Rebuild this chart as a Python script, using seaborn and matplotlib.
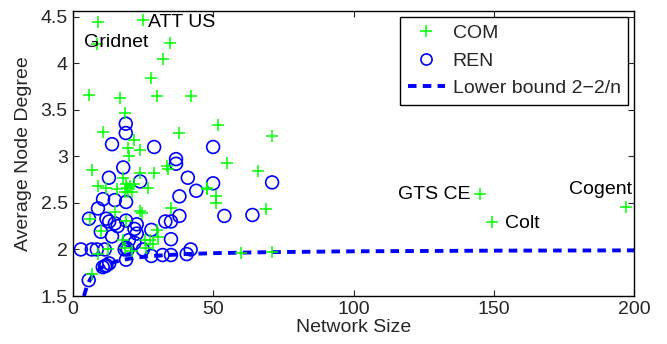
import numpy as np
import pandas as pd
import seaborn as sns
import matplotlib.pyplot as plt
from matplotlib.lines import Line2D
from matplotlib.ticker import FuncFormatter

# COM networks (network size, average node degree)
com_x = [8.9, 25, 8.6, 34.6, 32, 27.8, 5.7, 16.8, 29.9, 42, 18.5, 10.7, 22, 24, 37.8,
         51.7, 71, 55, 66, 47.8, 51, 51, 69, 60, 71, 145, 149.4, 197,
         19.6, 7, 18, 24, 29, 33.5, 34, 20, 9, 12, 15.6, 19, 19.5, 20.5, 19.8, 21, 18.5,
         26.7, 22, 48, 15, 24, 24.6, 35, 6, 19, 10, 30, 30.3, 18, 25.7, 27.5, 28.5,
         18.5, 12.5, 26, 21, 9, 7]
com_y = [4.44, 4.46, 4.21, 4.22, 4.04, 3.84, 3.66, 3.63, 3.65, 3.65, 3.46, 3.26, 3.18, 3.07, 3.25,
         3.34, 3.22, 2.93, 2.84, 2.65, 2.57, 2.50, 2.43, 1.96, 1.97, 2.59, 2.29, 2.46,
         3.09, 2.85, 2.77, 2.82, 2.82, 2.90, 2.86, 3.00, 2.68, 2.66, 2.65, 2.70, 2.66, 2.68, 2.62, 2.62, 2.62,
         2.66, 2.70, 2.66, 2.40, 2.41, 2.39, 2.45, 2.33, 2.31, 2.20, 2.21, 2.13, 2.10, 2.10, 2.10, 2.06,
         2.02, 2.01, 2.02, 1.98, 1.95, 1.74]

# REN networks
ren_x = [14, 29, 50, 36.8, 36.8, 18, 12.9, 24, 41, 50, 71, 44, 38, 10.8, 15, 19, 9, 38,
         5.8, 12, 13, 15, 16, 19, 22.8, 22, 22.8, 10, 14, 28, 33, 35, 35, 22, 20, 19,
         2.9, 6.8, 8.6, 11.4, 18.5, 19.6, 25, 19, 28, 32, 35, 40.6, 42,
         13, 12, 10.7, 11.5, 5.7, 54, 64, 18.9, 18.9]
ren_y = [3.13, 3.10, 3.10, 2.97, 2.92, 2.88, 2.77, 2.73, 2.77, 2.71, 2.72, 2.63, 2.57, 2.54, 2.53, 2.51, 2.44, 2.36,
         2.33, 2.33, 2.30, 2.28, 2.25, 2.31, 2.27, 2.22, 2.17, 2.19, 2.14, 2.21, 2.30, 2.30, 2.11, 2.07, 2.10, 2.02,
         2.00, 2.00, 2.00, 2.00, 2.00, 2.00, 2.00, 1.89, 1.93, 1.94, 1.94, 1.95, 2.00,
         1.85, 1.83, 1.81, 1.82, 1.67, 2.36, 2.37, 3.35, 3.25]

# lower bound 2 - 2/n
bound_n = [4, 5, 6, 7, 8, 10, 12, 15, 20, 25, 30, 40, 50, 70, 100, 150, 200]
bound_y = [1.5, 1.6, 1.667, 1.714, 1.75, 1.8, 1.833, 1.867, 1.9, 1.92, 1.933, 1.95, 1.96,
           1.971, 1.98, 1.987, 1.99]

labels = ["Gridnet", "ATT US", "GTS CE", "Colt", "Cogent"]
label_x = [3.9, 26.7, 141.5, 154, 199.3]
label_y = [4.22, 4.44, 2.585, 2.28, 2.64]
label_ha = ["left", "left", "right", "left", "right"]

com = pd.DataFrame({"size": com_x, "degree": com_y})
ren = pd.DataFrame({"size": ren_x, "degree": ren_y})
bound = pd.DataFrame({"size": bound_n, "degree": bound_y})

sns.set_style("ticks")
plt.rcParams["font.family"] = ["Liberation Sans", "DejaVu Sans"]

fig = plt.figure(figsize=(6.67, 3.44), dpi=100)
ax = fig.add_axes([0.109, 0.1395, 0.842, 0.8285])

green = "#00ff00"
blue = "#0000ff"

sns.lineplot(data=bound, x="size", y="degree", ax=ax, color=blue, linewidth=2.8,
             dashes=False, zorder=1)
ax.lines[-1].set_dashes([2.2, 1.6])
sns.scatterplot(data=com, x="size", y="degree", ax=ax, marker="+", color=green,
                s=80, linewidth=1.1, zorder=3)
sns.scatterplot(data=ren, x="size", y="degree", ax=ax, marker="o", facecolors="none",
                edgecolor=blue, s=85, linewidth=1.2, zorder=2)

for t, x, y, ha in zip(labels, label_x, label_y, label_ha):
    ax.text(x, y, t, ha=ha, va="center", fontsize=14, color="black")

ax.set_xlim(0, 200)
ax.set_ylim(1.5, 4.56)
ax.set_xticks([0, 50, 100, 150, 200])
ax.set_yticks([1.5, 2, 2.5, 3, 3.5, 4, 4.5])
ax.yaxis.set_major_formatter(FuncFormatter(lambda v, p: "%g" % v))
ax.tick_params(direction="in", top=True, right=True, labelsize=14, length=4, width=0.8)
ax.set_xlabel("Network Size", fontsize=14, labelpad=1)
ax.set_ylabel("Average Node Degree", fontsize=14, labelpad=6)
for sp in ax.spines.values():
    sp.set_linewidth(1.0)
    sp.set_color("black")

handles = [
    Line2D([], [], linestyle="none", marker="+", color=green, markersize=9, markeredgewidth=1.1),
    Line2D([], [], linestyle="none", marker="o", markerfacecolor="none", markeredgecolor=blue,
           markersize=8, markeredgewidth=1.2),
    Line2D([], [], color=blue, linewidth=2.8, dashes=[2.2, 1.6]),
]
leg = ax.legend(handles, ["COM", "REN", "Lower bound 2\u22122/n"], loc="upper right",
                fontsize=14, fancybox=False, framealpha=1, edgecolor="black",
                borderaxespad=0.3, handlelength=1.9, handletextpad=0.4,
                labelspacing=0.5, borderpad=0.4)
leg.get_frame().set_linewidth(1.0)

plt.savefig("out.png", dpi=100)
